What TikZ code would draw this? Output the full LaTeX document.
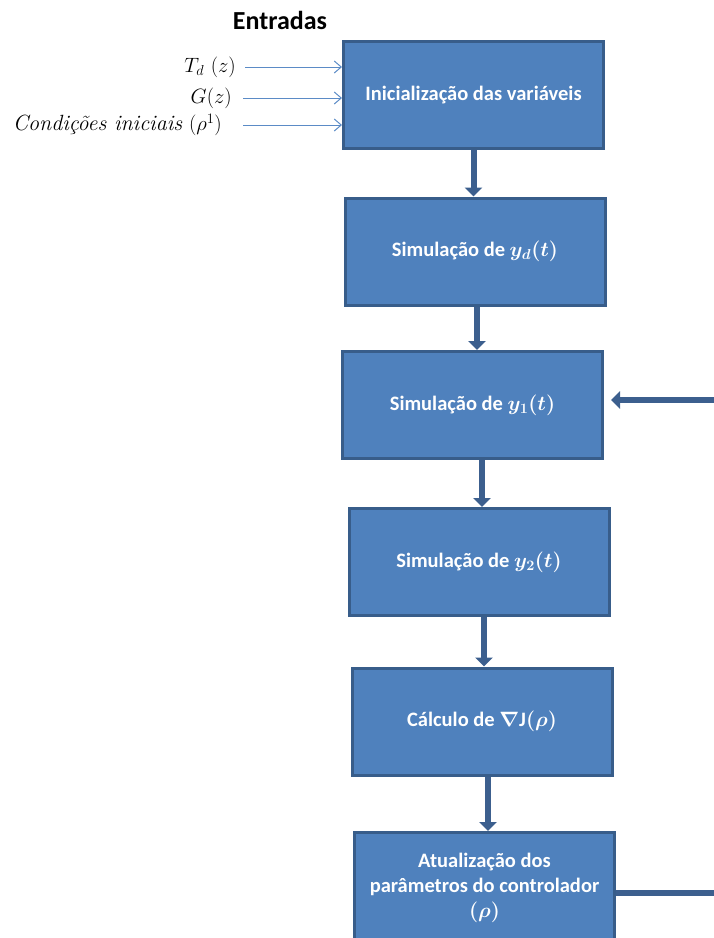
\documentclass[tikz,border=0pt]{standalone}
\usepackage{fontspec}
\usetikzlibrary{arrows.meta,calc}
\newfontfamily\calibri{Carlito}
\definecolor{boxfill}{HTML}{4F81BD}
\definecolor{boxedge}{HTML}{385D8A}
\definecolor{flowcol}{HTML}{3C5F8E}
\definecolor{incol}{HTML}{5B8BC6}
\tikzset{
  stepbox/.style={rectangle, fill=boxfill, draw=boxedge, line width=3pt,
    minimum width=260pt, minimum height=107pt, text=white, align=center,
    font=\calibri\bfseries\fontsize{20.5}{25}\selectfont, inner sep=0pt},
  flow/.style={draw=flowcol, line width=6pt, -{Triangle[length=9pt,width=17pt]}},
  flowline/.style={draw=flowcol, line width=6pt},
  inarrow/.style={draw=incol, line width=1pt, -{Straight Barb[length=7pt,width=12pt]}},
  inlabel/.style={anchor=east, font=\fontsize{22}{24}\selectfont, inner sep=0pt},
}
\begin{document}
\begin{tikzpicture}[x=1pt,y=-1pt]
\useasboundingbox (0,0) rectangle (714,938);
\node[font=\calibri\bfseries\fontsize{26}{30}\selectfont] (title) at (280,20) {Entradas};
\node[stepbox] (b1) at (473.5,95) {Inicialização das variáveis};
\node[stepbox] (b2) at (475,251.5) {Simulação de {\boldmath$y_d(t)$}};
\node[stepbox] (b3) at (472.5,405) {Simulação de {\boldmath$y_1(t)$}};
\node[stepbox] (b4) at (479,562) {Simulação de {\boldmath$y_2(t)$}};
\node[stepbox] (b5) at (482,721.5) {Cálculo de {\boldmath$\nabla$}J{\boldmath$(\rho)$}};
\node[stepbox, minimum height=111pt] (b6) at (484.5,888) {Atualização dos\\parâmetros do controlador\\{\boldmath$(\rho)$}};
% inputs
\node[inlabel] (l1) at (236,67) {$T_d\ (z)$};
\node[inlabel] (l2) at (232,98) {$G(z)$};
\node[inlabel] (l3) at (222,125) {\textit{Condições iniciais} $(\rho^1)$};
\coordinate (s1) at (245,67);
\coordinate (s2) at (243,98);
\coordinate (s3) at (243,125);
\draw[inarrow] (s1) -- (s1 -| b1.west);
\draw[inarrow] (s2) -- (s2 -| b1.west);
\draw[inarrow] (s3) -- (s3 -| b1.west);
% flow
\draw[flow] (b1.south) -- (b1.south |- b2.north);
\draw[flow] ($(b2.south)+(2,0)$) -- ($(b2.south |- b3.north)+(2,0)$);
\draw[flow] ($(b3.south)+(9.5,0)$) -- ($(b3.south |- b4.north)+(9.5,0)$);
\draw[flow] ($(b4.south)+(5,0)$) -- ($(b4.south |- b5.north)+(5,0)$);
\draw[flow] ($(b5.south)+(6,0)$) -- ($(b5.south |- b6.north)+(6,0)$);
% feedback
\coordinate (r1) at (714,893);
\coordinate (r2) at (714,400);
\draw[flowline] (r1 -| b6.east) -- (r1);
\draw[flow] (r2) -- ($(r2 -| b3.east)+(7,0)$);
\end{tikzpicture}
\end{document}
